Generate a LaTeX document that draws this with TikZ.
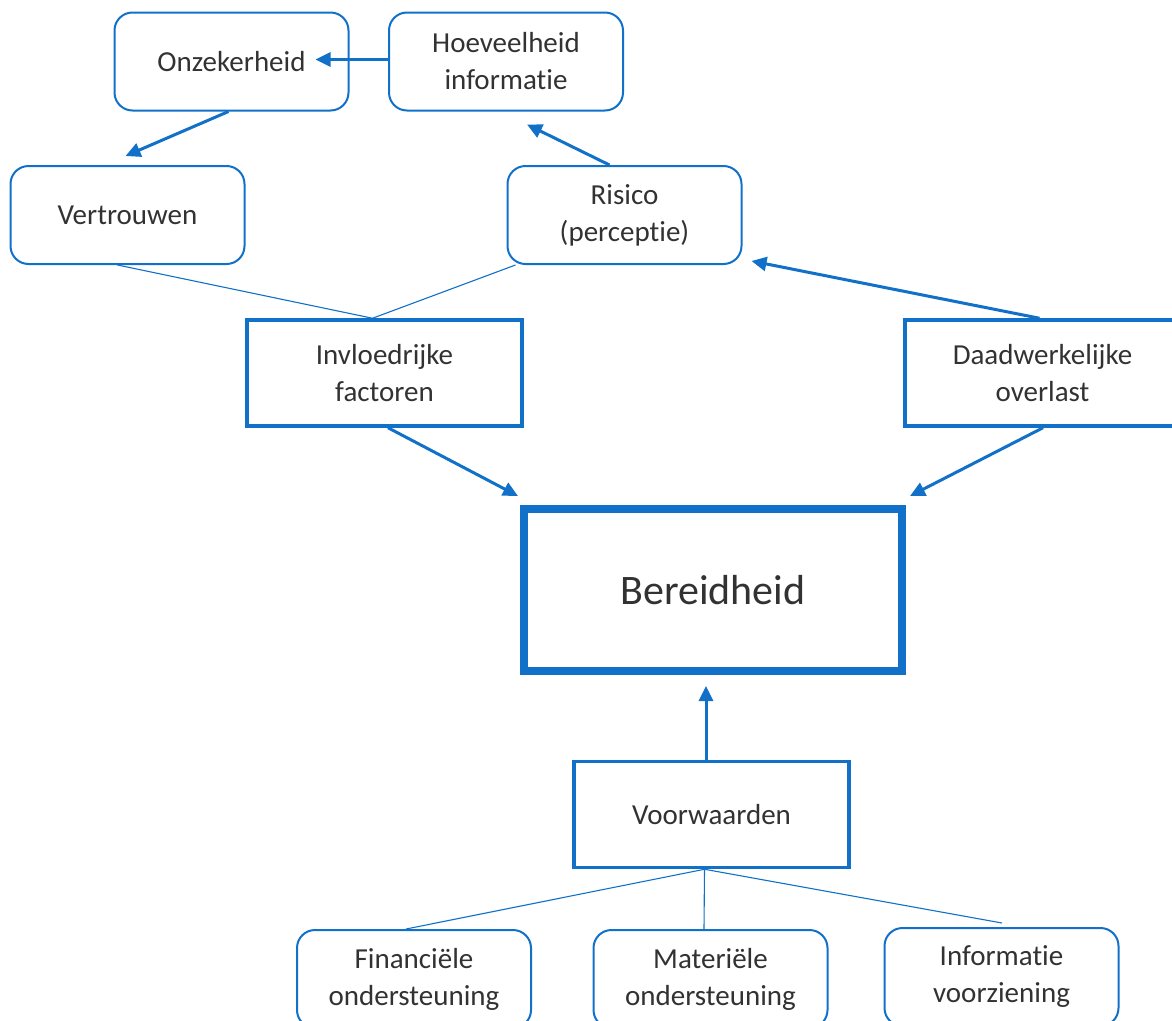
\documentclass[tikz,border=0pt]{standalone}
\usepackage{fontspec}
\setmainfont{Carlito}[Ligatures={NoCommon,NoContextual}]
\usetikzlibrary{arrows.meta,calc}
\definecolor{bl}{RGB}{17,112,200}
\definecolor{tx}{RGB}{50,50,50}
\begin{document}
\begin{tikzpicture}[x=1pt,y=1pt,
  every node/.style={font=\fontsize{29}{37}\selectfont, text=tx, align=center, inner sep=0pt},
  rbox/.style={draw=bl, line width=2pt, rounded corners=18pt, minimum width=234pt, minimum height=98pt},
  sbox/.style={draw=bl, line width=3.5pt, minimum width=275pt, minimum height=106pt},
  arr/.style={draw=bl, line width=3pt, -{Triangle[length=15pt,width=14pt]}},
  thin/.style={draw=bl, line width=1.1pt}]
\useasboundingbox (0,0) rectangle (1172,-1020);
\clip (0,0) rectangle (1172,-1020);
\node[rbox] (onz) at (231.5,-61.5) {Onzekerheid};
\node[rbox] (hoev) at (506,-61.5) {Hoeveelheid\\informatie};
\node[rbox] (vert) at (127.5,-215) {Vertrouwen};
\node[rbox] (ris) at (624.5,-215) {Risico\\(perceptie)};
\node[sbox] (invl) at (384.5,-373) {Invloedrijke\\factoren};
\node[sbox] (daad) at (1042.5,-373) {Daadwerkelijke\\overlast};
\node[draw=bl, line width=8pt, minimum width=378pt, minimum height=162pt,
      font=\fontsize{42}{48}\selectfont] (ber) at (713,-590) {\raisebox{-6pt}{Bereidheid}};
\node[sbox] (voor) at (711.5,-814.5) {Voorwaarden};
\node[rbox] (fin) at (414,-979) {Financiële\\ondersteuning};
\node[rbox] (mat) at (710.5,-979) {Materiële\\ondersteuning};
\node[rbox] (inf) at (1001.5,-977) {Informatie\\voorziening};

\draw[arr] ($(hoev.west)+(0,2)$) -- ($(onz.east)+(-34,2)$);
\draw[arr] ($(onz.south)+(-3,0)$) -- ($(vert.north)+(-2,9)$);
\draw[arr] ($(ris.north)+(-15,0)$) -- ($(hoev.south)+(21,-13)$);
\draw[arr] ($(daad.north)+(-3,0)$) -- ($(ris.south east)+(9,4)$);
\draw[arr] ($(invl.south)+(3.5,0)$) -- ($(ber.north west)+(-2,9)$);
\draw[arr] ($(daad.south)+(0.5,0)$) -- ($(ber.north east)+(4,9)$);
\draw[arr] ($(voor.north)+(-5.5,0)$) -- ($(ber.south)+(-7,-11)$);

\draw[thin] ($(vert.south)+(-10,0)$) -- ($(invl.north)+(-12,0)$);
\draw[thin] ($(ris.south west)+(9,0)$) -- ($(invl.north)+(-12,0)$);
\draw[thin] ($(voor.south)+(-7,0)$) -- ($(fin.north)+(-8,0)$);
\draw[thin] ($(voor.south)+(-7,0)$) -- ($(mat.north)+(-6.5,0)$);
\draw[thin] ($(voor.south)+(-7,0)$) -- ($(inf.north)+(0.5,4)$);
\end{tikzpicture}
\end{document}
